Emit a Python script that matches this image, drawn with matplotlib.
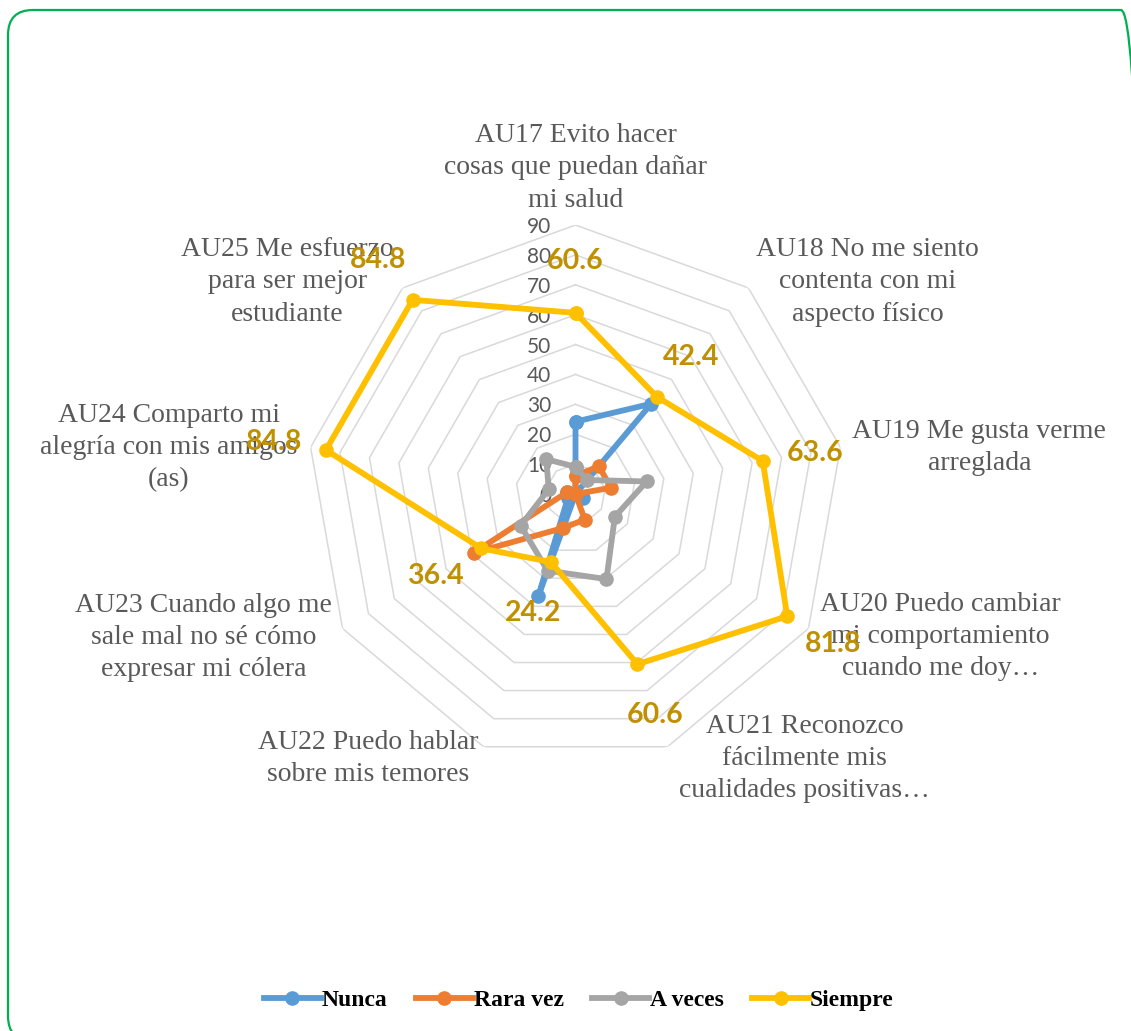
import numpy as np
import matplotlib
matplotlib.use("Agg")
import matplotlib.pyplot as plt
from matplotlib.patches import FancyBboxPatch
from matplotlib.transforms import IdentityTransform

categories = [
    "AU17 Evito hacer\ncosas que puedan dañar\nmi salud",
    "AU18 No me siento\ncontenta con mi\naspecto físico",
    "AU19 Me gusta verme\narreglada",
    "AU20 Puedo cambiar\nmi comportamiento\ncuando me doy…",
    "AU21 Reconozco\nfácilmente mis\ncualidades positivas…",
    "AU22 Puedo hablar\nsobre mis temores",
    "AU23 Cuando algo me\nsale mal no sé cómo\nexpresar mi cólera",
    "AU24 Comparto mi\nalegría con mis amigos\n(as)",
    "AU25 Me esfuerzo\npara ser mejor\nestudiante",
]
series_names = ["Nunca", "Rara vez", "A veces", "Siempre"]
nunca = [24.2, 39.4, 0, 3.0, 0, 36.4, 3.0, 3.0, 0]
rara_vez = [6.1, 12.1, 12.1, 0, 9.1, 12.1, 39.4, 3.0, 0]
a_veces = [9.1, 6.1, 24.2, 15.2, 30.3, 27.3, 21.2, 9.1, 15.2]
siempre = [60.6, 42.4, 63.6, 81.8, 60.6, 24.2, 36.4, 84.8, 84.8]
ticks = [0, 10, 20, 30, 40, 50, 60, 70, 80, 90]

colors = ["#5B9BD5", "#ED7D31", "#A5A5A5", "#FFC000"]
label_color = "#BF9000"
text_color = "#595959"
grid_color = "#D9D9D9"

W, H = 1131, 1031
fig = plt.figure(figsize=(W / 100, H / 100), dpi=100)

# rounded green frame in pixel units (runs off the right and bottom edges)
frame = FancyBboxPatch((8, -10), 1138, 1031,
                       boxstyle="round,pad=0,rounding_size=25",
                       transform=IdentityTransform(), fill=False,
                       edgecolor="#00B050", linewidth=1.6, clip_on=False)
fig.patches.append(frame)

cx, cy, R = 575.5, 494, 269
ax = fig.add_axes([(cx - R) / W, 1 - (cy + R) / H, 2 * R / W, 2 * R / H],
                  projection="polar")
ax.set_theta_offset(np.pi / 2)
ax.set_theta_direction(-1)
ax.set_ylim(0, 90)
ax.grid(False)
ax.spines["polar"].set_visible(False)
ax.set_xticks([])
ax.set_yticks([])
ax.patch.set_alpha(0)

n = len(categories)
theta = np.linspace(0, 2 * np.pi, n, endpoint=False)
theta_c = np.append(theta, theta[0])

# polygon grid
for t in ticks[1:]:
    ax.plot(theta_c, [t] * (n + 1), color=grid_color, lw=1.1, zorder=1)

# radial tick labels
for t in ticks:
    ax.annotate(str(t), xy=(0, t), xytext=(-24, -2), textcoords="offset pixels",
                ha="right", va="center", fontsize=15, color=text_color,
                family="Lato", zorder=2)

# series
handles = []
for name, vals, col in zip(series_names, [nunca, rara_vez, a_veces, siempre], colors):
    v = np.append(vals, vals[0])
    h, = ax.plot(theta_c, v, color=col, lw=4.2, marker="o", markersize=9.5,
                 label=name, zorder=3, solid_joinstyle="round")
    handles.append(h)

# data labels for Siempre
for th, val in zip(theta, siempre):
    a = np.pi / 2 - th
    ax.annotate(f"{val:.1f}", xy=(th, val),
                xytext=(53 * np.cos(a), 53 * np.sin(a) - 1),
                textcoords="offset pixels", ha="center", va="center",
                fontsize=20.5, fontweight="bold", color=label_color,
                family="Lato", zorder=5)

# category labels (offsets in pixels from the outer vertex)
cat_offsets = [(0, 57), (119, 6), (139, 0), (132, -8), (137, -12),
               (-115, -12), (-139, -9), (-142, 0), (-115, 6)]
for th, lab, off in zip(theta, categories, cat_offsets):
    ax.annotate(lab, xy=(th, 90), xytext=off, textcoords="offset pixels",
                ha="center", va="center", multialignment="center",
                fontsize=20, color=text_color, family="Liberation Serif",
                linespacing=1.38, zorder=4, annotation_clip=False)

fig.legend(handles=handles, loc="center", bbox_to_anchor=(579 / W, 1 - 1000 / H),
           ncol=4, frameon=False, handlelength=2.4, handletextpad=0.05,
           columnspacing=1.2,
           prop={"family": "Liberation Serif", "weight": "bold", "size": 17})

fig.savefig("out.png", dpi=100)
